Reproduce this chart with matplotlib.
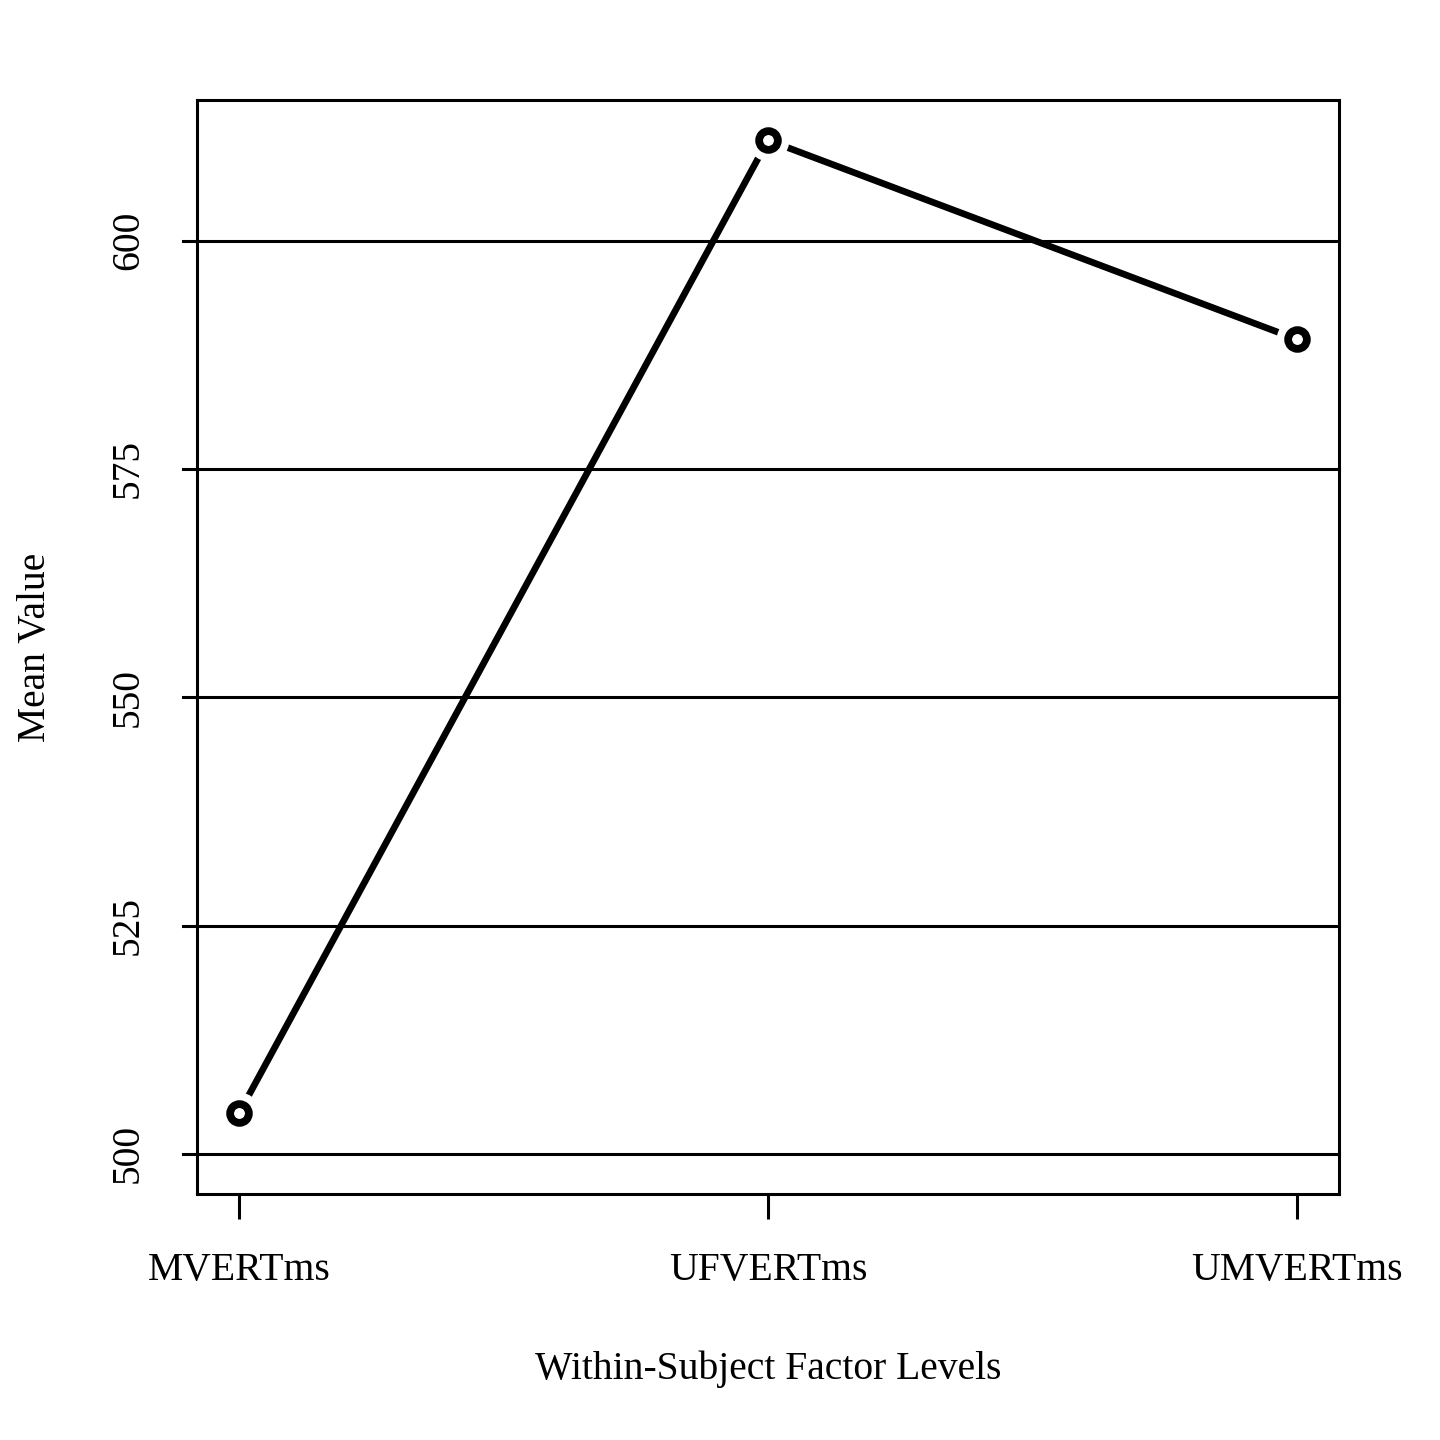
import matplotlib
matplotlib.use("Agg")
import matplotlib.pyplot as plt

levels = ["MVERTms", "UFVERTms", "UMVERTms"]
means = [504.5, 611.0, 589.2]
yticks = [500, 525, 550, 575, 600]

plt.rcParams['font.family'] = ['Liberation Serif', 'DejaVu Serif']

fig = plt.figure(figsize=(14.4, 14.4), dpi=100)
ax = fig.add_axes([197 / 1440, 1 - 1194 / 1440, (1339 - 197) / 1440, (1194 - 100) / 1440])

x = list(range(1, len(levels) + 1))

# horizontal reference lines, reaching out past the box like R's abline + ticks
for yv in yticks:
    ax.axhline(yv, xmin=-14 / 1142, xmax=1, color='black', lw=2.2, clip_on=False, zorder=1)

# type="b": line with gaps around the points (white halo under the markers)
ax.plot(x, means, color='black', lw=4.8, solid_capstyle='round', zorder=2)
ax.plot(x, means, linestyle='none', marker='o', ms=29, mfc='white', mec='white', zorder=3)
ax.plot(x, means, linestyle='none', marker='o', ms=13.5, mfc='white', mec='black', mew=5.6, zorder=4)

ax.set_xlim(0.92, 3.08)
ax.set_ylim(495.6, 615.4)

ax.set_xticks(x)
ax.set_xticklabels(levels, fontsize=28.5)
ax.set_yticks(yticks)
ax.set_yticklabels([str(v) for v in yticks], fontsize=28.5, rotation=90, va='center')

ax.tick_params(axis='both', length=18, width=2.2, color='black')
ax.tick_params(axis='x', pad=24)
ax.tick_params(axis='y', pad=36, length=0)

for s in ax.spines.values():
    s.set_linewidth(2.2)

ax.set_xlabel("Within-Subject Factor Levels", fontsize=28.5, labelpad=44)
ax.set_ylabel("Mean Value", fontsize=28.5, labelpad=40)

fig.savefig("out.png", dpi=100)
